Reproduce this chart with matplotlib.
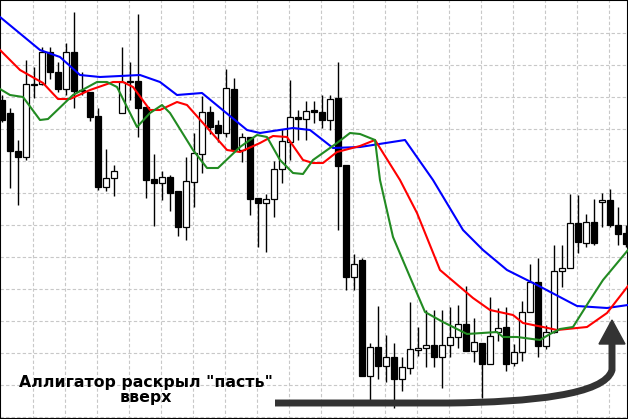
import matplotlib.pyplot as plt
from matplotlib.path import Path
from matplotlib.patches import PathPatch, Polygon

# candle data (screen units, y grows downward)
opens = [100, 113, 151, 157, 85, 84, 52, 72, 89, 52, 90, 92, 116, 187, 178, 113, 81, 81, 107, 179,
         183, 177, 191, 227, 182, 154, 112, 125, 133, 89, 150, 137, 198, 203, 199, 169, 142, 117, 119, 110,
         112, 120, 98, 165, 277, 260, 376, 347, 366, 357, 379, 368, 348, 348, 345, 357, 345, 337, 324, 351,
         343, 364, 332, 327, 363, 352, 312, 282, 346, 332, 271, 268, 223, 243, 222, 202, 200, 225, 233]
closes = [120, 151, 157, 84, 84, 52, 72, 89, 52, 91, 90, 117, 187, 178, 171, 82, 81, 108, 180, 183,
          177, 193, 227, 181, 153, 112, 127, 133, 88, 149, 137, 199, 203, 199, 169, 141, 117, 119, 111, 112,
          120, 99, 166, 277, 264, 376, 347, 366, 357, 379, 367, 349, 348, 345, 357, 345, 337, 324, 351, 342,
          364, 336, 328, 364, 352, 312, 282, 346, 332, 271, 268, 223, 242, 222, 243, 200, 225, 234, 244]
highs = [95, 108, 140, 60, 67, 47, 47, 62, 43, 12, 72, 92, 108, 149, 165, 47, 62, 14, 107, 154,
         171, 175, 191, 157, 133, 96, 106, 120, 69, 78, 133, 137, 198, 194, 161, 129, 80, 110, 101, 101,
         95, 95, 62, 165, 254, 258, 343, 306, 335, 343, 357, 302, 327, 310, 310, 310, 307, 305, 286, 318,
         343, 297, 308, 307, 344, 301, 264, 258, 325, 245, 245, 194, 195, 214, 199, 193, 189, 207, 225]
lows = [122, 188, 205, 160, 98, 85, 79, 92, 95, 108, 95, 121, 190, 191, 196, 113, 100, 137, 198, 226,
        200, 211, 236, 240, 207, 173, 134, 142, 137, 152, 162, 215, 247, 252, 217, 183, 160, 140, 140, 123,
        128, 130, 230, 290, 290, 376, 405, 379, 382, 408, 391, 374, 356, 367, 367, 388, 357, 348, 351, 362,
        398, 364, 341, 371, 366, 361, 312, 357, 349, 333, 287, 268, 253, 247, 245, 227, 227, 245, 247]

# alligator lines (screen x, screen y)
blue_x = [0, 40, 60, 80, 100, 140, 160, 177, 202, 247, 260, 273, 293, 310, 333, 360, 405, 433, 463, 483, 507, 537, 577, 607, 628]
blue_y = [17, 50, 57, 75, 77, 75, 82, 95, 93, 130, 133, 131, 128, 130, 148, 147, 140, 180, 230, 250, 270, 285, 306, 308, 305]
red_x = [0, 20, 43, 58, 70, 90, 113, 123, 133, 150, 160, 177, 187, 227, 240, 260, 273, 287, 303, 313, 323, 337, 360, 375, 400, 417, 440, 473, 490, 513, 523, 543, 557, 587, 607, 628]
red_y = [50, 70, 83, 99, 99, 90, 82, 82, 87, 110, 110, 102, 105, 150, 152, 143, 136, 137, 160, 163, 163, 152, 146, 140, 180, 213, 270, 298, 310, 315, 323, 327, 330, 327, 313, 286]
green_x = [0, 10, 23, 40, 48, 73, 97, 107, 117, 137, 150, 162, 170, 193, 207, 218, 240, 257, 267, 280, 293, 303, 313, 337, 350, 360, 375, 380, 393, 410, 425, 443, 467, 497, 503, 517, 540, 550, 560, 573, 590, 603, 628]
green_y = [89, 95, 97, 120, 119, 95, 82, 82, 87, 127, 113, 105, 113, 150, 168, 168, 147, 135, 137, 160, 173, 174, 160, 143, 133, 134, 140, 180, 237, 277, 312, 322, 334, 332, 337, 337, 340, 334, 329, 327, 300, 280, 250]

xs = [2 + 8 * i for i in range(len(opens))]

fig = plt.figure(figsize=(6.28, 4.19), dpi=100)
ax = fig.add_axes([0, 0, 1, 1])
ax.set_xlim(0, 628)
ax.set_ylim(419, 0)

# grid
for gx in range(33, 628, 32):
    ax.axvline(gx, color='#c8c8c8', linestyle=(0, (3, 2)), linewidth=0.8, zorder=0)
for gy in range(33, 419, 32):
    ax.axhline(gy, color='#c8c8c8', linestyle=(0, (3, 2)), linewidth=0.8, zorder=0)

# candles
ax.vlines(xs, highs, lows, color='black', linewidth=1.0, zorder=2)
for x, o, c in zip(xs, opens, closes):
    top, bot = min(o, c), max(o, c)
    face = 'black' if c > o else 'white'
    ax.bar(x, max(bot - top, 1.5), bottom=top, width=5.5, color=face,
           edgecolor='black', linewidth=0.9, zorder=3)

# alligator
ax.plot(blue_x, blue_y, color='#0000ff', linewidth=1.5, zorder=4)
ax.plot(red_x, red_y, color='#ff0000', linewidth=1.5, zorder=4)
ax.plot(green_x, green_y, color='#228b22', linewidth=1.5, zorder=4)

# annotation
ax.text(146, 390, 'Аллигатор раскрыл "пасть"\nвверх', ha='center', va='center',
        fontsize=11.3, fontweight='bold', color='black', linespacing=1.05, zorder=6)
arrow = Path([(275, 403), (450, 403), (530, 402), (605, 395), (612, 370), (612, 342)],
             [Path.MOVETO, Path.LINETO, Path.CURVE4, Path.CURVE4, Path.CURVE4, Path.LINETO])
ax.add_patch(PathPatch(arrow, facecolor='none', edgecolor='#333333', linewidth=5, zorder=6,
                       capstyle='butt'))
ax.add_patch(Polygon([(599, 344), (625, 344), (612, 320)], closed=True,
                     facecolor='#333333', edgecolor='#333333', zorder=6))

ax.set_xticks([])
ax.set_yticks([])
for s in ax.spines.values():
    s.set_color('black')
    s.set_linewidth(1.5)

fig.savefig('out.png', dpi=100)
